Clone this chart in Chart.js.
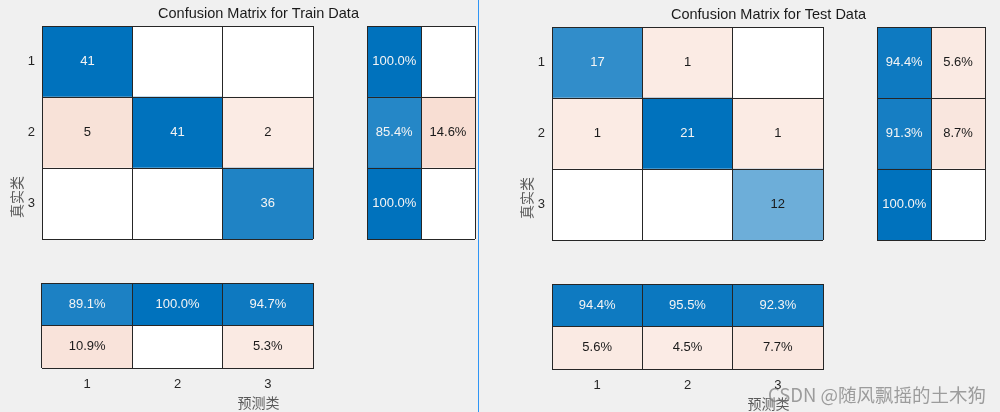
<!DOCTYPE html>
<html>
<head>
<meta charset="utf-8">
<script src="https://cdn.jsdelivr.net/npm/chart.js@4.4.1/dist/chart.umd.min.js"></script>
<style>
  html, body { margin: 0; padding: 0; background: #f0f0f0; }
  #stage { position: relative; width: 1000px; height: 412px; overflow: hidden; }
  #stage canvas { position: absolute; left: 0; top: 0; }
  #divider { position: absolute; left: 478px; top: 0; width: 1px; height: 412px; background: #2f95f5; }
  #mark {
    position: absolute; right: 14px; top: 383px; z-index: 2;
    font: 18.5px 'Noto Sans CJK SC', sans-serif; line-height: 22px; white-space: nowrap;
    color: rgba(120,120,120,.7);
  }
</style>
</head>
<body>
<div id="stage">
  <div id="divider"></div>
  <div id="mark">CSDN @随风飘摇的土木狗</div>
</div>
<script>
// ── values ────────────────────────────────────────────
const classLabels = ['1', '2', '3'];
const xAxisLabel  = '预测类';
const yAxisLabel  = '真实类';

const trainTitle  = 'Confusion Matrix for Train Data';
const trainCounts = [
    [41,  0,  0],
    [ 5, 41,  2],
    [ 0,  0, 36]
];
// row summary: per true class [correct %, wrong %]
const trainRowPct = [[100.0, 0], [85.4, 14.6], [100.0, 0]];
// column summary: [correct % per predicted class], [wrong %]
const trainColPct = [[89.1, 100.0, 94.7], [10.9, 0, 5.3]];

const testTitle  = 'Confusion Matrix for Test Data';
const testCounts = [
    [17,  1,  0],
    [ 1, 21,  1],
    [ 0,  0, 12]
];
const testRowPct = [[94.4, 5.6], [91.3, 8.7], [100.0, 0]];
const testColPct = [[94.4, 95.5, 92.3], [5.6, 4.5, 7.7]];

// ── layout (chart-area boxes: left, top, right, bottom) ──
const W = 1000, H = 412;
const FONT  = "'Liberation Sans', Arial, sans-serif";
const CJK   = "'Noto Sans CJK SC', sans-serif";
const LINE  = '#262626';
const BLUE   = [0, 114, 189];
const ORANGE = [217, 83, 25];

const stage   = document.getElementById('stage');
const divider = document.getElementById('divider');

Chart.defaults.animation = false;
Chart.defaults.responsive = false;
Chart.defaults.devicePixelRatio = 1;
Chart.defaults.plugins.legend.display = false;
Chart.defaults.plugins.tooltip.enabled = false;

// white → blue for correct cells, white → orange for wrong ones
// (off-diagonal tint never goes fully pale, like the reference)
function shade(frac, good) {
    const base = good ? BLUE : ORANGE;
    const f = good || frac === 0 ? frac : 0.08 + 0.75 * frac;
    return 'rgb(' + base.map(v => Math.round(255 - f * (255 - v))).join(',') + ')';
}

function cell(frac, good, text) {
    return {
        fill: shade(frac, good),
        ink : good && frac > 0.65 ? '#f4f4f4' : '#1a1a1a',
        text: frac > 0 ? text : ''
    };
}

// text in each cell, centred on its bar
const cellText = {
    id: 'cellText',
    afterDatasetsDraw(chart) {
        const { cells, byRow } = chart.options.plugins.cellText;
        const ctx = chart.ctx;
        ctx.save();
        ctx.font = '13px ' + FONT;
        ctx.textAlign = 'center';
        ctx.textBaseline = 'middle';
        chart.data.datasets.forEach((ds, d) => {
            chart.getDatasetMeta(d).data.forEach((bar, i) => {
                const c = byRow ? cells[i][d] : cells[d][i];
                if (!c.text) return;
                const p = bar.getCenterPoint();
                ctx.fillStyle = c.ink;
                ctx.fillText(c.text, p.x, p.y);
            });
        });
        ctx.restore();
    }
};

// title + axis titles of one panel
const panelText = {
    id: 'panelText',
    afterDraw(chart) {
        const o = chart.options.plugins.panelText;
        const ctx = chart.ctx;
        const cx = (o.main[0] + o.rows[2]) / 2;
        ctx.save();
        ctx.textAlign = 'center';
        ctx.textBaseline = 'middle';
        ctx.fillStyle = '#1a1a1a';
        ctx.font = '14.5px ' + FONT;
        ctx.fillText(o.title, cx, o.main[1] - 12.5);
        ctx.fillStyle = '#5a5a5a';
        ctx.font = '14px ' + CJK;
        ctx.fillText(xAxisLabel, cx, o.cols[3] + 35);
        ctx.translate(o.main[0] - 25, (o.main[1] + o.cols[3]) / 2);
        ctx.rotate(-Math.PI / 2);
        ctx.fillText(yAxisLabel, 0, 0);
        ctx.restore();
    }
};

// one block of cells drawn as unit stacked bars
function block(box, cells, ticks, extra) {
    const nRows = cells.length, nCols = cells[0].length;
    const byRow = ticks !== 'x';              // rows are the categories
    const showTicks = !!ticks;
    const nCat = byRow ? nRows : nCols;
    const nStack = byRow ? nCols : nRows;
    const canvas = document.createElement('canvas');
    canvas.width = W; canvas.height = H;
    stage.insertBefore(canvas, divider);

    const datasets = [];
    for (let s = 0; s < nStack; s++) {
        const pick = k => byRow ? cells[k][s] : cells[s][k];
        datasets.push({
            data: Array.from({ length: nCat }, () => 1),
            backgroundColor: Array.from({ length: nCat }, (_, k) => pick(k).fill),
            borderWidth: 0,
            barPercentage: 1,
            categoryPercentage: 1
        });
    }
    const labels = showTicks ? classLabels.slice(0, nCat) : Array(nCat).fill('');

    // grid lines on top of the bars give the 1px cell outlines
    const grid = { color: LINE, lineWidth: 1, drawTicks: false, z: 1 };
    const catAxis = {
        type: 'category', stacked: true,
        grid: { ...grid, offset: true },
        border: { color: LINE, width: 1, z: 1 },
        ticks: { display: showTicks, color: '#262626', padding: byRow ? 7 : 9, font: { family: FONT, size: 13 } },
        afterFit: s => { if (showTicks) { if (byRow) s.width = 40; else s.height = 30; } }
    };
    const valAxis = {
        type: 'linear', stacked: true, min: 0, max: nStack, reverse: !byRow,
        grid, border: { display: false }, ticks: { display: false, stepSize: 1 }
    };

    const [L, T, R, B] = box;
    return new Chart(canvas, {
        type: 'bar',
        data: { labels, datasets },
        options: {
            indexAxis: byRow ? 'y' : 'x',
            layout: { padding: {
                left  : L - (byRow && showTicks ? 40 : 0),
                top   : T,
                right : W - R,
                bottom: H - B - (!byRow && showTicks ? 30 : 0)
            } },
            scales: byRow ? { y: catAxis, x: valAxis } : { x: catAxis, y: valAxis },
            plugins: { cellText: { cells, byRow }, ...(extra || {}) }
        },
        plugins: extra ? [cellText, panelText] : [cellText]
    });
}

function panel(title, counts, rowPct, colPct, main, rows, cols) {
    const max = Math.max(...counts.flat());
    const mainCells = counts.map((row, r) => row.map((v, c) => cell(v / max, r === c, String(v))));
    const rowCells  = rowPct.map(p => p.map((v, k) => cell(v / 100, k === 0, v.toFixed(1) + '%')));
    const colCells  = colPct.map((p, k) => p.map(v => cell(v / 100, k === 0, v.toFixed(1) + '%')));
    block(main, mainCells, 'y', { panelText: { title, main, rows, cols } });
    block(rows, rowCells, null);
    block(cols, colCells, 'x');
}

panel(trainTitle, trainCounts, trainRowPct, trainColPct,
      [42, 26, 313, 239], [367, 26, 475, 239], [42, 283, 313, 368]);
panel(testTitle, testCounts, testRowPct, testColPct,
      [552, 27, 823, 240], [877, 27, 985, 240], [552, 284, 823, 369]);
</script>
</body>
</html>
